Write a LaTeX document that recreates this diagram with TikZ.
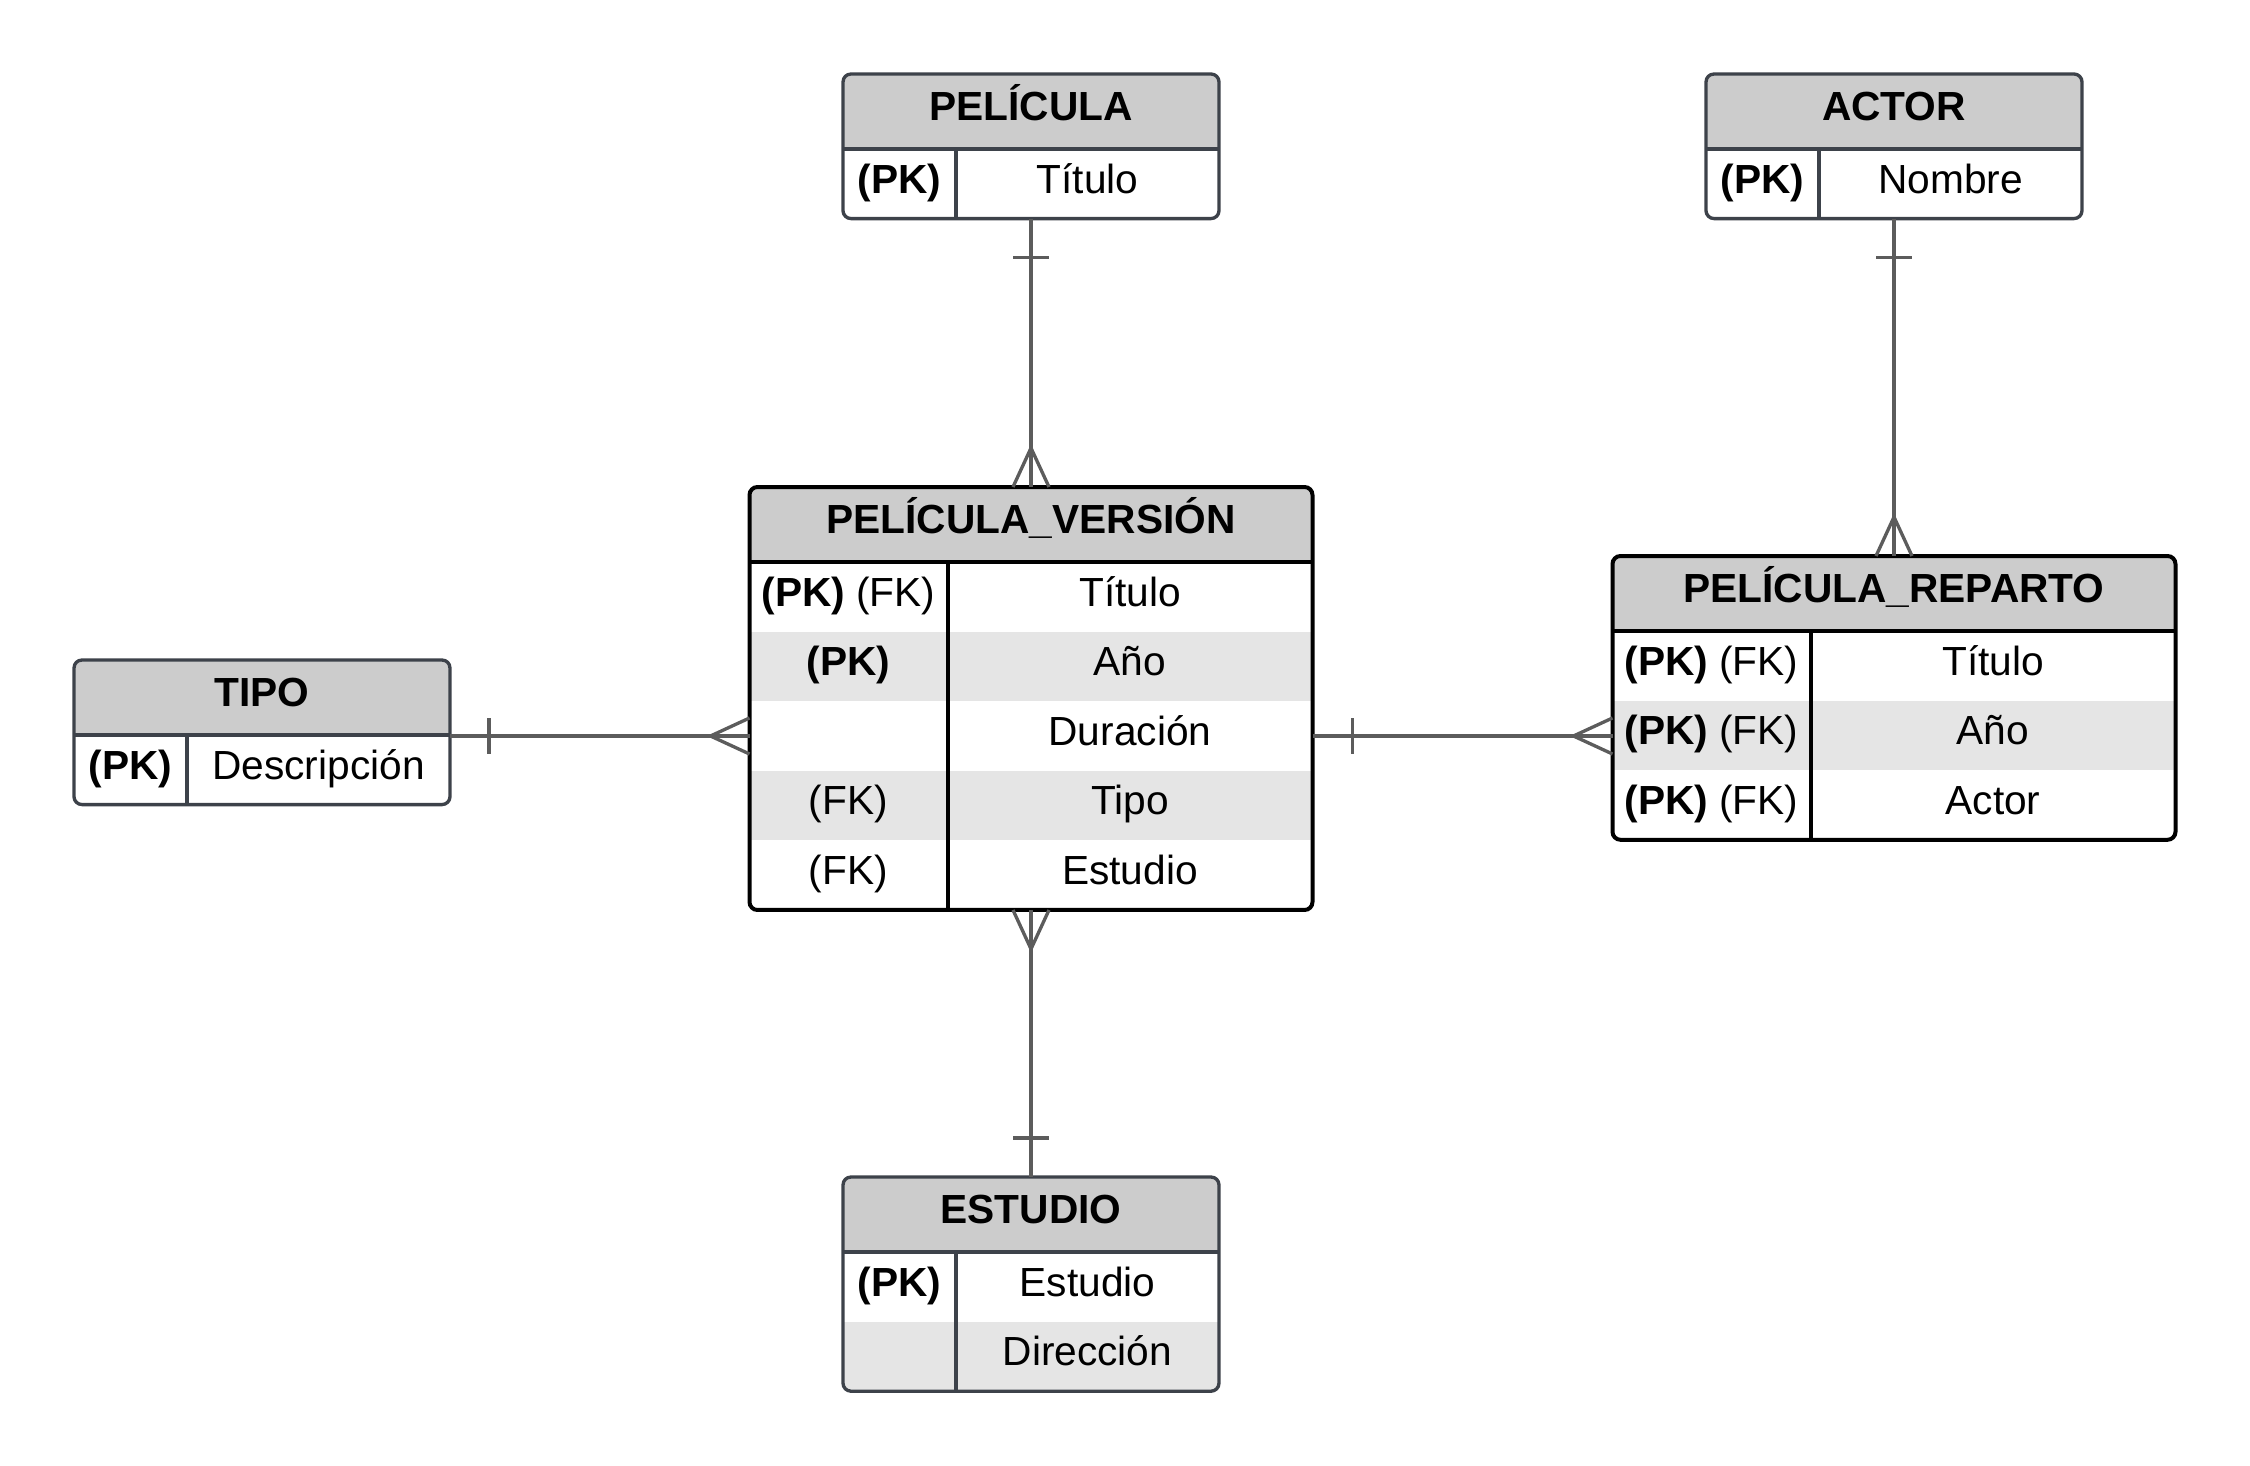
\documentclass[tikz,border=0pt]{standalone}
\usepackage{fontspec}
\setmainfont{Liberation Sans}
\usetikzlibrary{calc}
\pgfdeclarelayer{background}
\pgfsetlayers{background,main}
\definecolor{headgray}{HTML}{CCCCCC}
\definecolor{bandgray}{HTML}{E5E5E5}
\definecolor{edgegray}{HTML}{3D424A}
\definecolor{relgray}{HTML}{5C5C5C}

\begin{document}
\begin{tikzpicture}[x=0.3pt,y=-0.3pt,
		font=\fontsize{12.2}{14}\selectfont,
		tbl/.style={rectangle, rounded corners=2.4pt, draw=edgegray, line width=1pt, inner sep=0pt, outer sep=0pt, minimum width=112.8pt},
		bigtbl/.style={tbl, draw=black, line width=1.2pt, minimum width=168.9pt},
		rule/.style={draw=edgegray, line width=1pt},
		bigrule/.style={draw=black, line width=1.2pt},
		txt/.style={inner sep=0pt, text height=8.8pt, text depth=3.2pt},
		hd/.style={txt, font=\fontsize{12.2}{14}\selectfont\bfseries},
		rel/.style={draw=relgray, line width=1pt}]
				\useasboundingbox (0,0) rectangle (2250,1466);
				\node[tbl, minimum height=43.38pt] (pel) at (1031,146.3) {};
				\node[tbl, minimum height=43.38pt] (act) at (1894,146.3) {};
				\node[tbl, minimum height=43.38pt] (tipo) at (262,732.3) {};
				\node[tbl, minimum height=64.26pt] (est) at (1031,1284.1) {};
				\node[bigtbl, minimum height=126.9pt] (pv) at (1031,698.5) {};
				\node[bigtbl, minimum height=85.14pt] (pr) at (1894,697.9) {};
				\begin{pgfonlayer}{background}
					\begin{scope}
						\clip[rounded corners=2.4pt] (pel.north west) rectangle (pel.south east);
						\fill[headgray] (pel.north west) rectangle ($(pel.north east)+(0,75)$);
					\end{scope}
					\begin{scope}
						\clip[rounded corners=2.4pt] (act.north west) rectangle (act.south east);
						\fill[headgray] (act.north west) rectangle ($(act.north east)+(0,75)$);
					\end{scope}
					\begin{scope}
						\clip[rounded corners=2.4pt] (tipo.north west) rectangle (tipo.south east);
						\fill[headgray] (tipo.north west) rectangle ($(tipo.north east)+(0,75)$);
					\end{scope}
					\begin{scope}
						\clip[rounded corners=2.4pt] (est.north west) rectangle (est.south east);
						\fill[headgray] (est.north west) rectangle ($(est.north east)+(0,75)$);
						\fill[bandgray] ($(est.north west)+(0,144.6)$) rectangle ($(est.north east)+(0,214.2)$);
					\end{scope}
					\begin{scope}
						\clip[rounded corners=2.4pt] (pv.north west) rectangle (pv.south east);
						\fill[headgray] (pv.north west) rectangle ($(pv.north east)+(0,75)$);
						\fill[bandgray] ($(pv.north west)+(0,144.6)$) rectangle ($(pv.north east)+(0,214.2)$);
						\fill[bandgray] ($(pv.north west)+(0,283.8)$) rectangle ($(pv.north east)+(0,353.4)$);
					\end{scope}
					\begin{scope}
						\clip[rounded corners=2.4pt] (pr.north west) rectangle (pr.south east);
						\fill[headgray] (pr.north west) rectangle ($(pr.north east)+(0,75)$);
						\fill[bandgray] ($(pr.north west)+(0,144.6)$) rectangle ($(pr.north east)+(0,214.2)$);
					\end{scope}
				\end{pgfonlayer}
				\draw[rule] ($(pel.north west)+(0,75)$) -- ($(pel.north east)+(0,75)$);
				\draw[rule] ($(pel.north west)+(113,75)$) -- ($(pel.south west)+(113,0)$);
				\draw[rule] ($(act.north west)+(0,75)$) -- ($(act.north east)+(0,75)$);
				\draw[rule] ($(act.north west)+(113,75)$) -- ($(act.south west)+(113,0)$);
				\draw[rule] ($(tipo.north west)+(0,75)$) -- ($(tipo.north east)+(0,75)$);
				\draw[rule] ($(tipo.north west)+(113,75)$) -- ($(tipo.south west)+(113,0)$);
				\draw[rule] ($(est.north west)+(0,75)$) -- ($(est.north east)+(0,75)$);
				\draw[rule] ($(est.north west)+(113,75)$) -- ($(est.south west)+(113,0)$);
				\draw[bigrule] ($(pv.north west)+(0,75)$) -- ($(pv.north east)+(0,75)$);
				\draw[bigrule] ($(pv.north west)+(198,75)$) -- ($(pv.south west)+(198,0)$);
				\draw[bigrule] ($(pr.north west)+(0,75)$) -- ($(pr.north east)+(0,75)$);
				\draw[bigrule] ($(pr.north west)+(198,75)$) -- ($(pr.south west)+(198,0)$);
				\node[hd] (pelh) at ($(pel.north west)+(188,37.5)$) {PELÍCULA};
				\node[txt] (pelk1) at ($(pel.north west)+(56.5,109.8)$) {\textbf{(PK)}};
				\node[txt] (pel1) at ($(pel.north west)+(244.5,109.8)$) {Título};
				\node[hd] (acth) at ($(act.north west)+(188,37.5)$) {ACTOR};
				\node[txt] (actk1) at ($(act.north west)+(56.5,109.8)$) {\textbf{(PK)}};
				\node[txt] (act1) at ($(act.north west)+(244.5,109.8)$) {Nombre};
				\node[hd] (tipoh) at ($(tipo.north west)+(188,37.5)$) {TIPO};
				\node[txt] (tipok1) at ($(tipo.north west)+(56.5,109.8)$) {\textbf{(PK)}};
				\node[txt] (tipo1) at ($(tipo.north west)+(244.5,109.8)$) {Descripción};
				\node[hd] (esth) at ($(est.north west)+(188,37.5)$) {ESTUDIO};
				\node[txt] (estk1) at ($(est.north west)+(56.5,109.8)$) {\textbf{(PK)}};
				\node[txt] (est1) at ($(est.north west)+(244.5,109.8)$) {Estudio};
				\node[txt] (est2) at ($(est.north west)+(244.5,179.4)$) {Dirección};
				\node[hd] (pvh) at ($(pv.north west)+(281.5,37.5)$) {PELÍCULA\_VERSIÓN};
				\node[txt] (pvk1) at ($(pv.north west)+(99,109.8)$) {\textbf{(PK)} (FK)};
				\node[txt] (pvk2) at ($(pv.north west)+(99,179.4)$) {\textbf{(PK)}};
				\node[txt] (pvk4) at ($(pv.north west)+(99,318.6)$) {(FK)};
				\node[txt] (pvk5) at ($(pv.north west)+(99,388.2)$) {(FK)};
				\node[txt] (pv1) at ($(pv.north west)+(380.5,109.8)$) {Título};
				\node[txt] (pv2) at ($(pv.north west)+(380.5,179.4)$) {Año};
				\node[txt] (pv3) at ($(pv.north west)+(380.5,249)$) {Duración};
				\node[txt] (pv4) at ($(pv.north west)+(380.5,318.6)$) {Tipo};
				\node[txt] (pv5) at ($(pv.north west)+(380.5,388.2)$) {Estudio};
				\node[hd] (prh) at ($(pr.north west)+(281.5,37.5)$) {PELÍCULA\_REPARTO};
				\node[txt] (prk1) at ($(pr.north west)+(99,109.8)$) {\textbf{(PK)} (FK)};
				\node[txt] (prk2) at ($(pr.north west)+(99,179.4)$) {\textbf{(PK)} (FK)};
				\node[txt] (prk3) at ($(pr.north west)+(99,249)$) {\textbf{(PK)} (FK)};
				\node[txt] (pr1) at ($(pr.north west)+(380.5,109.8)$) {Título};
				\node[txt] (pr2) at ($(pr.north west)+(380.5,179.4)$) {Año};
				\node[txt] (pr3) at ($(pr.north west)+(380.5,249)$) {Actor};
				\draw[rel] (pel.south) -- (pv.north);
				\draw[rel] ($(pel.south)+(-18,39)$) -- ($(pel.south)+(18,39)$);
				\draw[rel] ($(pv.north)+(-18,0)$) -- ($(pv.north)+(0,-39)$) -- ($(pv.north)+(18,0)$);
				\draw[rel] (act.south) -- (pr.north);
				\draw[rel] ($(act.south)+(-18,39)$) -- ($(act.south)+(18,39)$);
				\draw[rel] ($(pr.north)+(-18,0)$) -- ($(pr.north)+(0,-39)$) -- ($(pr.north)+(18,0)$);
				\draw[rel] (pv.south) -- (est.north);
				\draw[rel] ($(pv.south)+(-18,0)$) -- ($(pv.south)+(0,39)$) -- ($(pv.south)+(18,0)$);
				\draw[rel] ($(est.north)+(-18,-39)$) -- ($(est.north)+(18,-39)$);
				\draw[rel] (tipo.east |- pv3) -- (pv.west |- pv3);
				\draw[rel] ($(tipo.east |- pv3)+(39,-18)$) -- ($(tipo.east |- pv3)+(39,18)$);
				\draw[rel] ($(pv.west |- pv3)+(0,-18)$) -- ($(pv.west |- pv3)+(-39,0)$) -- ($(pv.west |- pv3)+(0,18)$);
				\draw[rel] (pv.east |- pv3) -- (pr.west |- pv3);
				\draw[rel] ($(pv.east |- pv3)+(40,-18)$) -- ($(pv.east |- pv3)+(40,18)$);
				\draw[rel] ($(pr.west |- pv3)+(0,-18)$) -- ($(pr.west |- pv3)+(-39,0)$) -- ($(pr.west |- pv3)+(0,18)$);
\end{tikzpicture}
\end{document}
